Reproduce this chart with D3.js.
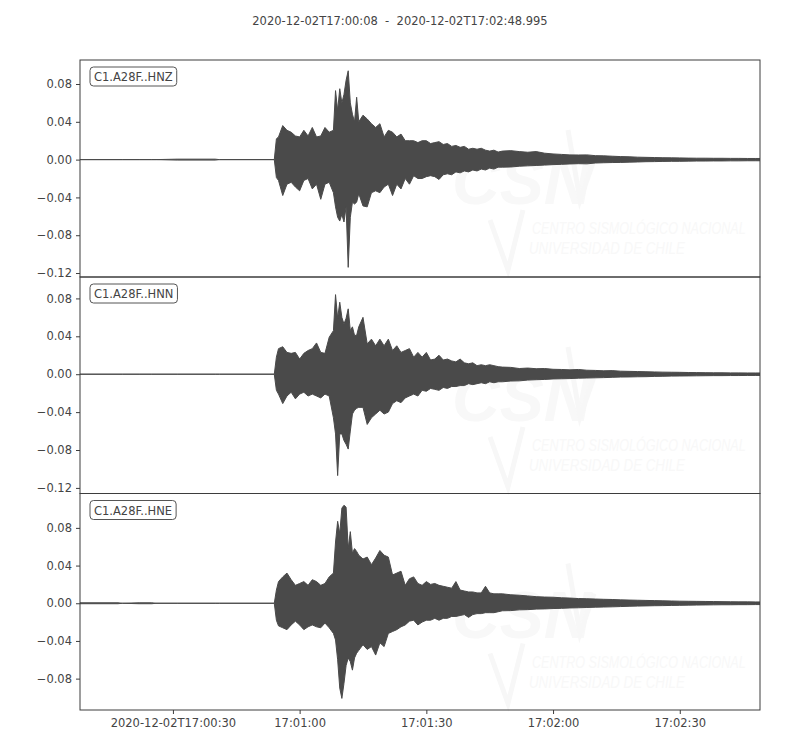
<!DOCTYPE html>
<html>
<head>
<meta charset="utf-8">
<script src="https://cdn.jsdelivr.net/npm/d3@7"></script>
<style>
  html, body { margin: 0; padding: 0; background: #fff; }
  svg { display: block; font-family: "DejaVu Sans", sans-serif; }
</style>
</head>
<body>
<svg id="chart" width="800" height="750"></svg>
<script>
// ---------------- DATA ----------------
const startTime = "2020-12-02T17:00:08.000Z";
const endTime = "2020-12-02T17:02:48.995Z";
const titleText = "2020-12-02T17:00:08  -  2020-12-02T17:02:48.995";
const channels = ["C1.A28F..HNZ", "C1.A28F..HNN", "C1.A28F..HNE"];

// seconds after start time (envelope sample times)
const times = [0, 9, 10, 14, 17, 18, 23, 32, 33, 46,
  46.5,
  47, 48, 49, 50, 51, 52, 53, 54, 55, 56, 57, 58, 59, 60,
  60.5, 61, 61.5, 62, 62.5, 63, 63.5, 64, 64.5, 65, 65.5, 66,
  67, 68, 69, 70, 71, 72, 73, 74, 75, 76, 77, 78, 79, 80, 81, 82, 83, 84, 85, 86,
  87, 88, 89, 90, 91, 92, 93, 94, 95, 96, 97, 98, 99, 100,
  102, 104, 106, 108, 110, 112, 114, 116, 118, 120, 122, 124, 126, 128, 130,
  132, 134, 136, 138, 140, 142, 144, 146, 148, 150, 152, 154, 156, 158, 160,
  161];

// envelope maxima / minima of each trace
const hnzMax = [0, 0, 0, 0, 0, 0, 0.0005, 0.0005, 0, 0,
  0.022,
  0.024, 0.036, 0.031, 0.029, 0.025, 0.024, 0.031, 0.025, 0.034, 0.024, 0.025, 0.034, 0.029, 0.031,
  0.073, 0.052, 0.075, 0.060, 0.069, 0.084, 0.094, 0.060, 0.048, 0.040, 0.066, 0.040,
  0.047, 0.043, 0.038, 0.034, 0.038, 0.024, 0.031, 0.029, 0.024, 0.027, 0.020, 0.020, 0.020, 0.018, 0.020, 0.020, 0.017, 0.018, 0.019, 0.016,
  0.017, 0.014, 0.015, 0.013, 0.014, 0.011, 0.012, 0.011, 0.012, 0.010, 0.009, 0.010, 0.008, 0.009,
  0.0095, 0.0085, 0.0078, 0.0085, 0.0068, 0.0060, 0.0055, 0.0050, 0.0049, 0.0050, 0.0042, 0.0040, 0.0036, 0.0032, 0.0030,
  0.0026, 0.0024, 0.0022, 0.0020, 0.0019, 0.0018, 0.0016, 0.0015, 0.0015, 0.0014, 0.0014, 0.0013, 0.0013, 0.0012, 0.0012,
  0.0012];
const hnzMin = [0, 0, 0, 0, 0, 0, -0.0005, -0.0005, 0, 0,
  -0.019,
  -0.022, -0.038, -0.026, -0.024, -0.029, -0.033, -0.022, -0.020, -0.031, -0.026, -0.042, -0.026, -0.024, -0.035,
  -0.050, -0.061, -0.065, -0.058, -0.066, -0.050, -0.114, -0.061, -0.045, -0.047, -0.045, -0.036,
  -0.049, -0.050, -0.035, -0.033, -0.035, -0.029, -0.026, -0.038, -0.026, -0.031, -0.020, -0.026, -0.017, -0.020, -0.020, -0.018, -0.017, -0.018, -0.021, -0.016,
  -0.015, -0.016, -0.013, -0.014, -0.012, -0.013, -0.011, -0.012, -0.010, -0.011, -0.009, -0.010, -0.008, -0.008,
  -0.0078, -0.0070, -0.0066, -0.0062, -0.0058, -0.0053, -0.0050, -0.0046, -0.0043, -0.0045, -0.0036, -0.0033, -0.0031, -0.0030, -0.0027,
  -0.0025, -0.0022, -0.0021, -0.0019, -0.0018, -0.0018, -0.0016, -0.0015, -0.0015, -0.0014, -0.0014, -0.0013, -0.0013, -0.0012, -0.0012,
  -0.0012];

const hnnMax = [0, 0, 0, 0, 0, 0, 0, 0, 0, 0,
  0.018,
  0.027, 0.029, 0.023, 0.022, 0.023, 0.016, 0.022, 0.025, 0.027, 0.033, 0.023, 0.022, 0.039, 0.046,
  0.084, 0.059, 0.076, 0.060, 0.053, 0.059, 0.069, 0.046, 0.050, 0.041, 0.041, 0.050,
  0.060, 0.032, 0.037, 0.030, 0.037, 0.030, 0.037, 0.025, 0.030, 0.023, 0.025, 0.027, 0.018, 0.023, 0.018, 0.023, 0.015, 0.016, 0.020, 0.015,
  0.016, 0.014, 0.013, 0.016, 0.012, 0.011, 0.012, 0.009, 0.010, 0.009, 0.010, 0.009, 0.008, 0.0075,
  0.0072, 0.0060, 0.0065, 0.0058, 0.0060, 0.0052, 0.0050, 0.0046, 0.0050, 0.0042, 0.0040, 0.0036, 0.0038, 0.0032, 0.0030,
  0.0028, 0.0026, 0.0024, 0.0022, 0.0021, 0.0020, 0.0018, 0.0017, 0.0016, 0.0015, 0.0015, 0.0014, 0.0014, 0.0013, 0.0013,
  0.0013];
const hnnMin = [0, 0, 0, 0, 0, 0, 0, 0, 0, 0,
  -0.017,
  -0.021, -0.031, -0.023, -0.019, -0.026, -0.021, -0.019, -0.023, -0.021, -0.023, -0.025, -0.021, -0.023, -0.046,
  -0.063, -0.107, -0.063, -0.063, -0.070, -0.074, -0.079, -0.060, -0.042, -0.038, -0.036, -0.035,
  -0.035, -0.053, -0.046, -0.042, -0.038, -0.042, -0.040, -0.031, -0.028, -0.030, -0.025, -0.023, -0.021, -0.023, -0.017, -0.018, -0.015, -0.016, -0.017, -0.014,
  -0.015, -0.013, -0.013, -0.012, -0.012, -0.010, -0.011, -0.010, -0.009, -0.010, -0.008, -0.009, -0.008, -0.008,
  -0.0072, -0.0070, -0.0062, -0.0058, -0.0055, -0.0050, -0.0048, -0.0046, -0.0042, -0.0040, -0.0038, -0.0036, -0.0033, -0.0030, -0.0029,
  -0.0027, -0.0026, -0.0023, -0.0022, -0.0020, -0.0019, -0.0018, -0.0017, -0.0016, -0.0015, -0.0015, -0.0014, -0.0014, -0.0013, -0.0013,
  -0.0013];

const hneMax = [0.0005, 0.0005, 0, 0.0005, 0.0005, 0, 0, 0, 0, 0,
  0.014,
  0.023, 0.028, 0.032, 0.025, 0.019, 0.021, 0.023, 0.019, 0.025, 0.023, 0.019, 0.021, 0.028, 0.032,
  0.065, 0.087, 0.074, 0.101, 0.104, 0.102, 0.058, 0.076, 0.053, 0.058, 0.055, 0.051,
  0.047, 0.049, 0.041, 0.048, 0.056, 0.051, 0.049, 0.030, 0.032, 0.034, 0.019, 0.026, 0.028, 0.021, 0.019, 0.023, 0.020, 0.021, 0.019, 0.018,
  0.017, 0.016, 0.023, 0.014, 0.013, 0.012, 0.012, 0.011, 0.011, 0.018, 0.011, 0.010, 0.010, 0.010,
  0.0090, 0.0085, 0.0078, 0.0070, 0.0066, 0.0064, 0.0058, 0.0055, 0.0050, 0.0048, 0.0045, 0.0042, 0.0040, 0.0036, 0.0034,
  0.0032, 0.0030, 0.0028, 0.0026, 0.0024, 0.0022, 0.0021, 0.0020, 0.0019, 0.0018, 0.0017, 0.0016, 0.0015, 0.0015, 0.0014,
  0.0014];
const hneMin = [-0.0005, -0.0005, 0, -0.0005, -0.0005, 0, 0, 0, 0, 0,
  -0.018,
  -0.024, -0.026, -0.028, -0.023, -0.019, -0.023, -0.028, -0.025, -0.023, -0.025, -0.026, -0.021, -0.026, -0.032,
  -0.039, -0.060, -0.090, -0.101, -0.085, -0.066, -0.058, -0.062, -0.071, -0.058, -0.053, -0.050,
  -0.044, -0.049, -0.046, -0.055, -0.042, -0.046, -0.032, -0.030, -0.028, -0.025, -0.023, -0.019, -0.018, -0.023, -0.020, -0.018, -0.018, -0.016, -0.018, -0.016,
  -0.016, -0.014, -0.014, -0.013, -0.012, -0.015, -0.012, -0.011, -0.011, -0.010, -0.010, -0.010, -0.009, -0.008,
  -0.0078, -0.0070, -0.0068, -0.0062, -0.0060, -0.0056, -0.0054, -0.0050, -0.0048, -0.0045, -0.0042, -0.0040, -0.0038, -0.0035, -0.0032,
  -0.0030, -0.0028, -0.0026, -0.0025, -0.0023, -0.0022, -0.0020, -0.0019, -0.0018, -0.0017, -0.0016, -0.0016, -0.0015, -0.0015, -0.0014,
  -0.0014];

// y-axis limits and ticks per panel
const yLimits = [[-0.1242, 0.1054], [-0.1259, 0.1026], [-0.1133, 0.1165]];
const yTicks = [
  [0.08, 0.04, 0.00, -0.04, -0.08, -0.12],
  [0.08, 0.04, 0.00, -0.04, -0.08, -0.12],
  [0.08, 0.04, 0.00, -0.04, -0.08]
];
const xTickTimes = ["2020-12-02T17:00:30Z", "2020-12-02T17:01:00Z", "2020-12-02T17:01:30Z", "2020-12-02T17:02:00Z", "2020-12-02T17:02:30Z"];
const xTickLabels = ["2020-12-02T17:00:30", "17:01:00", "17:01:30", "17:02:00", "17:02:30"];
const watermarkLines = ["CENTRO SISMOLÓGICO NACIONAL", "UNIVERSIDAD DE CHILE"];

// ---------------- DRAW ----------------
const svg = d3.select("#chart");
const left = 80, right = 760;
const panelTop = [60, 277, 493.5];
const panelBottom = [277, 493.5, 710];
const traceColor = "#4a4a4a";
const frameColor = "#3d3d3d";
const textColor = "#444";
const fontSize = 11.5;

const t0 = new Date(startTime);
const t1 = new Date(endTime);
const x = d3.scaleUtc().domain([t0, t1]).range([left, right]);
const toDate = s => new Date(t0.getTime() + s * 1000);

const series = [[hnzMax, hnzMin], [hnnMax, hnnMin], [hneMax, hneMin]];

svg.append("text")
  .attr("x", 400).attr("y", 25)
  .attr("text-anchor", "middle")
  .attr("font-size", fontSize).attr("fill", textColor)
  .attr("xml:space", "preserve")
  .style("white-space", "pre")
  .text(titleText);

const fmt = v => {
  const s = Math.abs(v).toFixed(2);
  return v < -1e-9 ? "\u2212" + s : s;
};

series.forEach((pair, i) => {
  const y = d3.scaleLinear().domain(yLimits[i]).range([panelBottom[i], panelTop[i]]);
  const g = svg.append("g");

  const clipId = "clip" + i;
  svg.append("clipPath").attr("id", clipId)
    .append("rect")
    .attr("x", left).attr("y", panelTop[i])
    .attr("width", right - left).attr("height", panelBottom[i] - panelTop[i]);

  // faint watermark
  const wy = panelTop[i];
  const wm = g.append("g").attr("fill", "#f8f8f8");
  wm.append("text").attr("x", 452).attr("y", wy + 144)
    .attr("font-size", 66).attr("font-weight", "bold").attr("font-style", "italic")
    .attr("font-family", "Liberation Sans, sans-serif").text("CSN");
  wm.append("path")
    .attr("fill", "none").attr("stroke", "#f7f7f7").attr("stroke-width", 5)
    .attr("d", `M568,${wy + 70} L580,${wy + 140} L594,${wy + 100}`);
  wm.append("path")
    .attr("fill", "none").attr("stroke", "#f7f7f7").attr("stroke-width", 5)
    .attr("d", `M490,${wy + 160} L508,${wy + 210} L523,${wy + 150}`);
  watermarkLines.forEach((s, k) => {
    const targetW = k === 0 ? 214 : 156;
    const x0 = 532 - k * 3, y0 = wy + 174 + k * 20;
    const tx = wm.append("text")
      .attr("font-size", 16).attr("font-style", "italic")
      .attr("font-family", "Liberation Sans, sans-serif")
      .text(s);
    const natural = tx.node().getComputedTextLength();
    tx.attr("transform", `translate(${x0},${y0}) scale(${targetW / natural},1)`);
  });

  // waveform envelope
  const pts = times.map((t, k) => ({ t: toDate(t), hi: pair[0][k], lo: pair[1][k] }));
  const area = d3.area()
    .x(d => x(d.t))
    .y0(d => y(d.lo))
    .y1(d => y(d.hi));
  g.append("path")
    .datum(pts)
    .attr("clip-path", `url(#${clipId})`)
    .attr("d", area)
    .attr("fill", traceColor)
    .attr("stroke", traceColor)
    .attr("stroke-width", 1)
    .attr("stroke-linejoin", "miter");

  // frame
  g.append("rect")
    .attr("x", left).attr("y", panelTop[i])
    .attr("width", right - left).attr("height", panelBottom[i] - panelTop[i])
    .attr("fill", "none").attr("stroke", frameColor).attr("stroke-width", 1);

  // y axis
  const yAxis = d3.axisLeft(y).tickValues(yTicks[i]).tickSize(4).tickPadding(4).tickFormat(fmt);
  const ya = g.append("g").attr("transform", `translate(${left},0)`).call(yAxis);
  ya.select(".domain").remove();
  ya.selectAll("line").attr("stroke", frameColor);
  ya.selectAll("text").attr("fill", textColor).attr("font-size", fontSize)
    .attr("font-family", "DejaVu Sans, sans-serif");

  // channel label
  const lbl = g.append("g").attr("transform", `translate(90,${panelTop[i] + 7})`);
  const txt = lbl.append("text").attr("x", 4).attr("y", 14)
    .attr("font-size", fontSize).attr("fill", textColor).text(channels[i]);
  const w = txt.node().getComputedTextLength();
  lbl.insert("rect", "text")
    .attr("x", 0).attr("y", 0).attr("width", w + 8).attr("height", 19)
    .attr("rx", 3.5).attr("ry", 3.5)
    .attr("fill", "white").attr("stroke", "#555").attr("stroke-width", 1);
});

// bottom x axis
const xAxis = d3.axisBottom(x)
  .tickValues(xTickTimes.map(s => new Date(s)))
  .tickSize(4).tickPadding(5)
  .tickFormat((d, k) => xTickLabels[k]);
const xa = svg.append("g").attr("transform", `translate(0,${panelBottom[2]})`).call(xAxis);
xa.select(".domain").remove();
xa.selectAll("line").attr("stroke", frameColor);
xa.selectAll("text").attr("fill", textColor).attr("font-size", fontSize)
  .attr("font-family", "DejaVu Sans, sans-serif");
</script>
</body>
</html>
